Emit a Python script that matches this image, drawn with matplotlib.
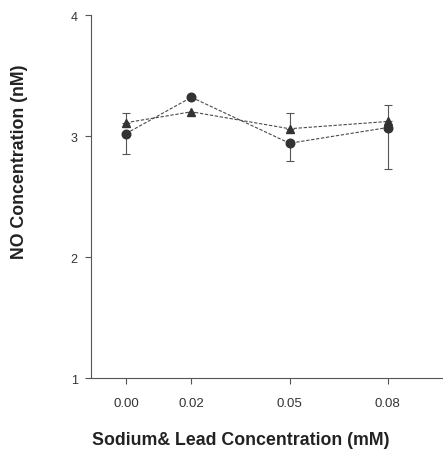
import matplotlib
matplotlib.use("Agg")
import matplotlib.pyplot as plt

plt.rcParams['font.family'] = ['Liberation Sans', 'DejaVu Sans']

# concentrations (mM) and NO readings (nM)
conc = [0.00, 0.02, 0.05, 0.08]
tick_labels = ['0.00', '0.02', '0.05', '0.08']
circle_vals = [3.02, 3.32, 2.94, 3.07]
circle_err = [0.17, 0.0, 0.15, 0.34]
tri_vals = [3.11, 3.20, 3.06, 3.12]
tri_err = [0.08, 0.0, 0.13, 0.14]

dpi = 100
fig = plt.figure(figsize=(443 / dpi, 452 / dpi), dpi=dpi)
ax = fig.add_axes([0.2054, 0.1615, 0.7946, 0.8031])

line_kw = dict(color='#4a4a4a', lw=0.8, dashes=(3, 1.5))
ax.plot(conc, circle_vals, **line_kw)
ax.plot(conc, tri_vals, **line_kw)

ax.errorbar(conc, circle_vals, yerr=[circle_err, [0] * 4], fmt='none',
            ecolor='#555555', elinewidth=0.8, capsize=3, capthick=0.8)
ax.errorbar(conc, tri_vals, yerr=[[0] * 4, tri_err], fmt='none',
            ecolor='#555555', elinewidth=0.8, capsize=3, capthick=0.8)

ax.plot(conc, circle_vals, 'o', color='#333333', ms=6.2, ls='none')
ax.plot(conc, tri_vals, '^', color='#333333', ms=6.2, ls='none')

ax.set_xlim(-0.0107, 0.0969)
ax.set_ylim(1, 4)
ax.set_xticks(conc)
ax.set_xticklabels(tick_labels)
ax.set_yticks([1, 2, 3, 4])
ax.set_yticklabels(['1', '2', '3', '4'])

for s in ['top', 'right']:
    ax.spines[s].set_visible(False)
for s in ['left', 'bottom']:
    ax.spines[s].set_color('#555555')
    ax.spines[s].set_linewidth(0.8)

ax.tick_params(axis='x', length=4, width=0.8, color='#555555', pad=10,
               labelsize=9.5, labelcolor='#333333')
ax.tick_params(axis='y', length=4.5, width=0.8, color='#555555', pad=5,
               labelsize=9, labelcolor='#333333')

fig.text(0.544, 0.0265, 'Sodium& Lead Concentration (mM)', ha='center',
         va='center', fontsize=12.8, fontweight='bold', color='#222222')
fig.text(0.045, 0.642, 'NO Concentration (nM)', ha='center', va='center',
         rotation=90, fontsize=12.8, fontweight='bold', color='#222222')

fig.savefig('out.png', dpi=dpi)
